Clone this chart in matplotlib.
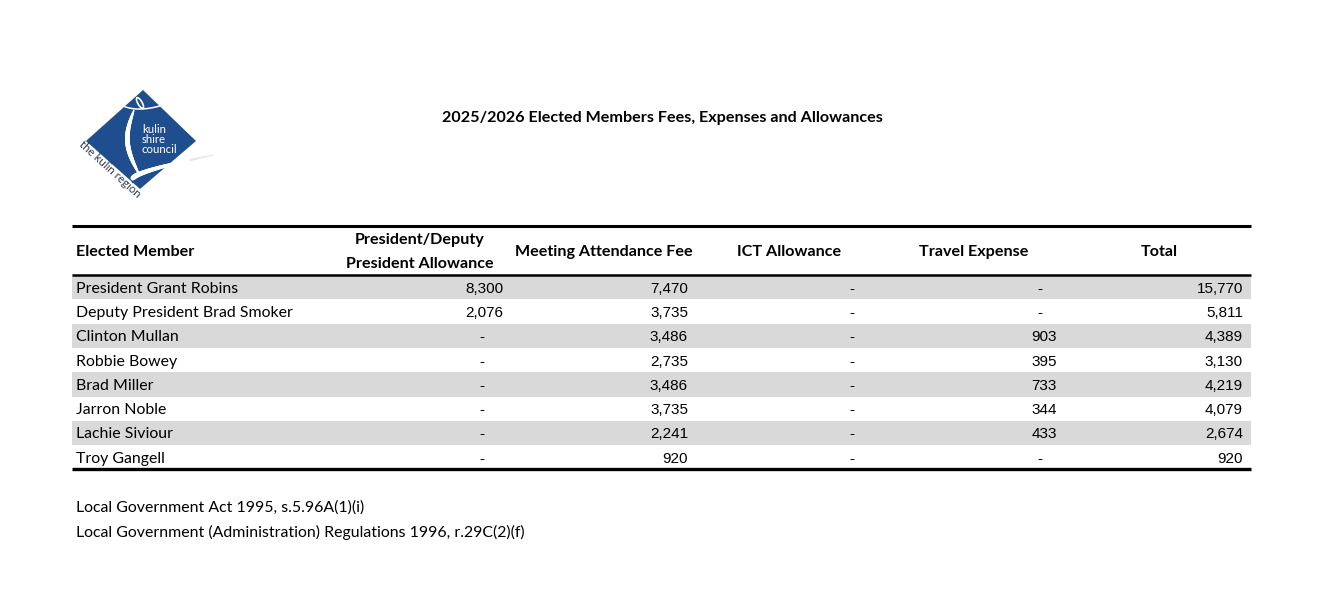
import matplotlib
matplotlib.use("Agg")
import matplotlib.pyplot as plt
from matplotlib.patches import Polygon, Rectangle, Ellipse
import numpy as np

title = "2025/2026 Elected Members Fees, Expenses and Allowances"
headers = ["Elected Member", "President/Deputy\nPresident Allowance", "Meeting Attendance Fee",
           "ICT Allowance", "Travel Expense", "Total"]
members = ["President Grant Robins", "Deputy President Brad Smoker", "Clinton Mullan", "Robbie Bowey",
           "Brad Miller", "Jarron Noble", "Lachie Siviour", "Troy Gangell"]
pres_allow = [8300, 2076, None, None, None, None, None, None]
meeting_fee = [7470, 3735, 3486, 2735, 3486, 3735, 2241, 920]
ict_allow = [None] * 8
travel = [None, None, 903, 395, 733, 344, 433, None]
totals = [15770, 5811, 4389, 3130, 4219, 4079, 2674, 920]
footnotes = ["Local Government Act 1995, s.5.96A(1)(i)",
             "Local Government (Administration) Regulations 1996, r.29C(2)(f)"]

W, H = 1321, 610
fig = plt.figure(figsize=(W / 100, H / 100), dpi=100)
ax = fig.add_axes([0, 0, 1, 1])
ax.set_xlim(0, W)
ax.set_ylim(H, 0)
ax.axis("off")

TXT = "Lato"
NUM = "Liberation Sans"
fs = 11.4
fsb = 11.6


def bezier(p0, p1, p2, n=60):
    t = np.linspace(0, 1, n)[:, None]
    p0, p1, p2 = map(np.asarray, (p0, p1, p2))
    pts = (1 - t) ** 2 * p0 + 2 * (1 - t) * t * p1 + t ** 2 * p2
    return pts[:, 0], pts[:, 1]


# Logo
blue = "#1F4E8E"
ax.add_patch(Polygon([(143, 90), (196, 141), (140, 189), (86, 141)], closed=True,
                     facecolor=blue, edgecolor="none", zorder=2))
# shoulders arc
sx, sy = bezier((114, 100), (132, 117), (172, 102))
ax.plot(sx, sy, color="white", lw=1.1, zorder=3)
# head
ax.add_patch(Ellipse((140, 103), 6, 14, angle=-30, facecolor="white", edgecolor="none", zorder=3))
ax.add_patch(Ellipse((140, 103), 2.5, 10, angle=-30, facecolor=blue, edgecolor="none", zorder=4))
# body C-arc
tt = np.linspace(0, 1, 80)
bx = 134 - 9 * np.sin(np.pi * tt) + 5 * tt
by = 110 + 64 * tt
for k in range(len(tt) - 1):
    w = 0.8 + 2.6 * np.sin(np.pi * tt[k]) ** 0.7
    ax.plot(bx[k:k + 2], by[k:k + 2], color="white", lw=w, solid_capstyle="round", zorder=3)
# bottom swoosh
ux = np.linspace(133, 214, 80)
uy = 178 - 23 * ((ux - 133) / 81) ** 0.7
for k in range(len(ux) - 1):
    w = 3.2 * (1 - (k / len(ux))) + 0.5
    ax.plot(ux[k:k + 2], uy[k:k + 2], color="white" if ux[k] < 190 else "#E4E8EE", lw=w,
            solid_capstyle="round", zorder=3)
ax.text(142, 139.5, "kulin\nshire\ncouncil", color="white", fontsize=8.2, family=TXT,
        ha="left", va="center", linespacing=0.92, zorder=5)
ax.text(110, 169, "the kulin region", color="#2E3A55", fontsize=8.3, family=TXT,
        rotation=-42, rotation_mode="anchor", ha="center", va="center", zorder=5)

# Title
ax.text(662, 118, title, fontsize=fsb, fontweight="bold", family=TXT, ha="center", va="center")

# Table geometry
left, right = 72, 1251
top = 226
hdr_bottom = 275
row_h = 24.3
n = len(members)
for i in range(n):
    y0 = hdr_bottom + i * row_h
    if i % 2 == 0:
        ax.add_patch(Rectangle((left, y0), right - left, row_h, facecolor="#D9D9D9",
                               edgecolor="none", zorder=1))
bottom = hdr_bottom + n * row_h
ax.plot([left, right], [top, top], color="black", lw=2.2, solid_capstyle="butt", zorder=3)
ax.plot([left, right], [hdr_bottom, hdr_bottom], color="black", lw=1.8, solid_capstyle="butt", zorder=3)
ax.plot([left, right], [bottom, bottom], color="black", lw=2.4, solid_capstyle="butt", zorder=3)

# Headers
hy = 252
ax.text(76, hy, headers[0], fontsize=fsb, fontweight="bold", family=TXT, ha="left", va="center")
hdr_cx = [None, 420, 604, 789, 974, 1159]
ax.text(hdr_cx[1], 240, headers[1].split("\n")[0], fontsize=fsb, fontweight="bold", family=TXT,
        ha="center", va="center")
ax.text(hdr_cx[1], 264, headers[1].split("\n")[1], fontsize=fsb, fontweight="bold", family=TXT,
        ha="center", va="center")
for j in range(2, 6):
    ax.text(hdr_cx[j], hy, headers[j], fontsize=fsb, fontweight="bold", family=TXT,
            ha="center", va="center")

cols = [pres_allow, meeting_fee, ict_allow, travel, totals]
num_right = [503, 688, None, 1057, 1243]
dash_x = [482, 667, 852, 1040, 1222]
for i in range(n):
    yc = hdr_bottom + (i + 0.5) * row_h + 1.5
    ax.text(76, yc, members[i], fontsize=fs, family=TXT, ha="left", va="center")
    for j, col in enumerate(cols):
        v = col[i]
        if v is None:
            ax.text(dash_x[j], yc, "-", fontsize=11, family=NUM, ha="center", va="center")
        else:
            ax.text(num_right[j], yc, f"{v:,}", fontsize=11, family=NUM, ha="right", va="center")

ax.text(76, 508, footnotes[0], fontsize=fs, family=TXT, ha="left", va="center")
ax.text(76, 532, footnotes[1], fontsize=fs, family=TXT, ha="left", va="center")

fig.savefig("out.png", dpi=100, facecolor="white")
